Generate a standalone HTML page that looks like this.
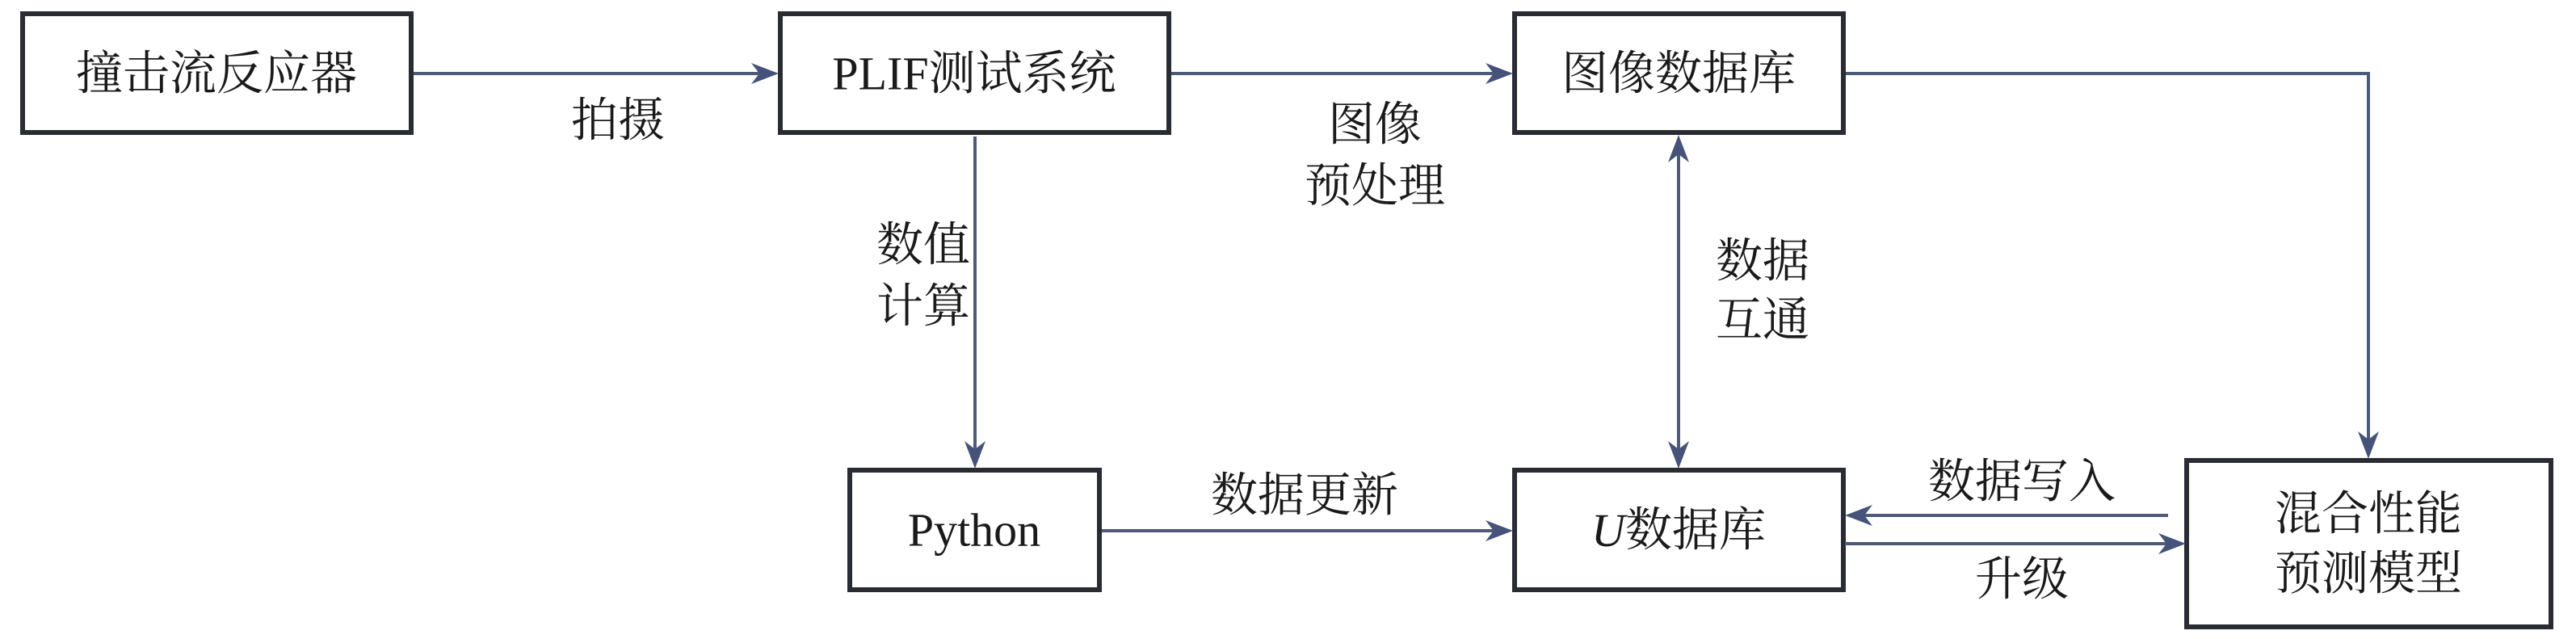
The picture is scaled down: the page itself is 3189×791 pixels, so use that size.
<!DOCTYPE html>
<html><head><meta charset="utf-8"><style>
html,body{margin:0;padding:0;background:#fff;}
svg{display:block;}
text{font-family:"Liberation Serif","Noto Serif CJK SC",serif;font-size:58px;fill:#1a1a1a;text-anchor:middle;dominant-baseline:central;}
.b{fill:#fff;stroke:#2a2c33;stroke-width:6;}
.l{stroke:#4d5a78;stroke-width:4;fill:none;}
.a{fill:#45537a;}
</style></head><body>
<svg width="3189" height="791" viewBox="0 0 3189 791">
<rect class="b" x="28" y="17" width="481" height="147"/>
<rect class="b" x="966" y="17" width="481" height="147"/>
<rect class="b" x="1875" y="17" width="407" height="147"/>
<rect class="b" x="1052" y="582" width="309" height="148"/>
<rect class="b" x="1875" y="582" width="407" height="148"/>
<rect class="b" x="2707" y="570" width="451" height="206"/>

<text x="268" y="91">撞击流反应器</text>
<text x="1206" y="91">PLIF测试系统</text>
<text x="2078" y="91">图像数据库</text>
<text x="1206" y="656">Python</text>
<text x="2078" y="656"><tspan font-style="italic">U</tspan>数据库</text>
<text x="2932" y="636">混合性能</text>
<text x="2932" y="710">预测模型</text>

<text x="765" y="149">拍摄</text>
<text x="1702" y="154">图像</text>
<text x="1702" y="230">预处理</text>
<text x="1143" y="303">数值</text>
<text x="1143" y="379">计算</text>
<text x="2182" y="323">数据</text>
<text x="2182" y="396">互通</text>
<text x="1615" y="613">数据更新</text>
<text x="2503" y="596">数据写入</text>
<text x="2503" y="717">升级</text>

<!-- connectors -->
<line class="l" x1="512" y1="91" x2="950" y2="91"/>
<path class="a" d="M964,91 L930,78 L940,91 L930,104Z"/>
<line class="l" x1="1450" y1="91" x2="1860" y2="91"/>
<path class="a" d="M1873,91 L1839,78 L1849,91 L1839,104Z"/>
<polyline class="l" points="2285,91 2932,91 2932,555"/>
<path class="a" d="M2932,568 L2919,534 L2932,544 L2945,534Z"/>
<line class="l" x1="1207" y1="169" x2="1207" y2="565"/>
<path class="a" d="M1207,580 L1194,546 L1207,556 L1220,546Z"/>
<line class="l" x1="2078" y1="182" x2="2078" y2="565"/>
<path class="a" d="M2078,167 L2065,201 L2078,191 L2091,201Z"/>
<path class="a" d="M2078,580 L2065,546 L2078,556 L2091,546Z"/>
<line class="l" x1="1364" y1="657" x2="1860" y2="657"/>
<path class="a" d="M1873,657 L1839,644 L1849,657 L1839,670Z"/>
<line class="l" x1="2684" y1="638" x2="2298" y2="638"/>
<path class="a" d="M2284,638 L2318,625 L2308,638 L2318,651Z"/>
<line class="l" x1="2284" y1="673" x2="2692" y2="673"/>
<path class="a" d="M2706,673 L2672,660 L2682,673 L2672,686Z"/>
</svg>
</body></html>
